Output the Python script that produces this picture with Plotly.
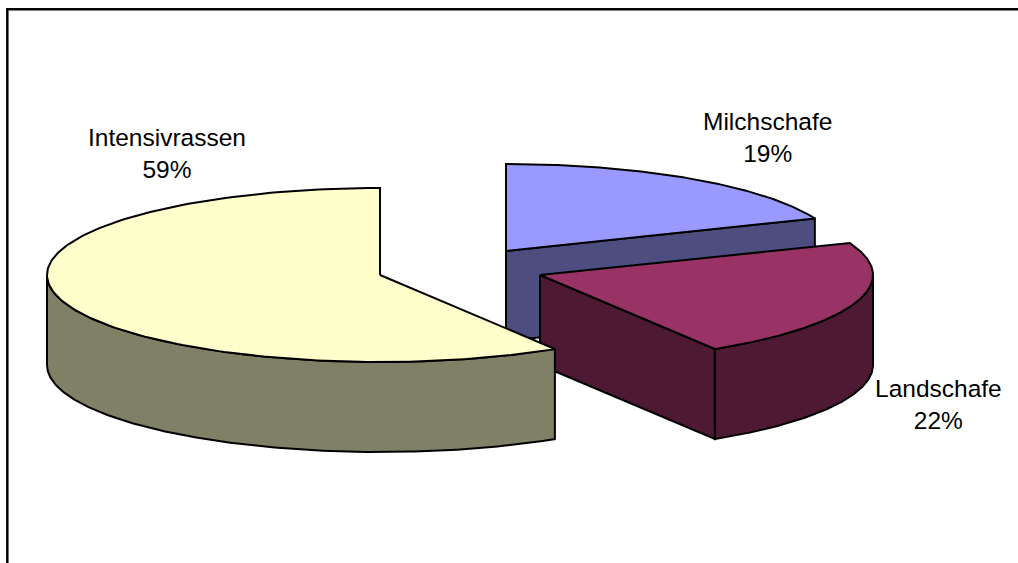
import numpy as np
import plotly.graph_objects as go

# Data
categories = ["Milchschafe", "Landschafe", "Intensivrassen"]
shares = [18.9, 22.3, 58.8]
top_colors = ["#9999FF", "#993366", "#FFFFCC"]
side_colors = ["#4D4D80", "#4D1933", "#808066"]

# Projection of the tilted pie (pixels)
centers = [(506, 251), (540, 275), (380, 275)]
RX, RY, DEPTH = 333, 87, 90
label_pos = [(767, 137), (938, 404), (167, 153)]

fig = go.Figure()


def rim(a0, a1):
    t = np.radians(np.linspace(a0, a1, 200))
    return RX * np.sin(t), -RY * np.cos(t)


def poly(x, y, color):
    fig.add_trace(go.Scatter(
        x=x, y=y, mode="lines", fill="toself", fillcolor=color,
        line=dict(color="black", width=2), hoverinfo="skip", showlegend=False))


edges = np.cumsum([0] + shares) * 3.6
for i, name in enumerate(categories):
    a0, a1 = edges[i], edges[i + 1]
    cx, cy = centers[i]
    rx, ry = rim(a0, a1)
    # cut wall at the end angle, facing the viewer for the first two slices
    if a1 < 180:
        ex, ey = rx[-1], ry[-1]
        poly([cx, cx + ex, cx + ex, cx, cx],
             [cy, cy + ey, cy + ey + DEPTH, cy + DEPTH, cy], side_colors[i])
    # outer wall: the part of the rim on the near side (90..270 degrees)
    lo, hi = max(a0, 90), min(a1, 270)
    if lo < hi:
        wx, wy = rim(lo, hi)
        poly(np.r_[cx + wx, (cx + wx)[::-1], cx + wx[0]],
             np.r_[cy + wy, (cy + wy + DEPTH)[::-1], cy + wy[0]], side_colors[i])
    # top face
    poly(np.r_[cx, cx + rx, cx], np.r_[cy, cy + ry, cy], top_colors[i])

for i, name in enumerate(categories):
    fig.add_annotation(x=label_pos[i][0], y=label_pos[i][1],
                       text=f"{name}<br>{round(shares[i])}%", showarrow=False,
                       font=dict(family="Liberation Sans, Arial, sans-serif",
                                 size=24.5, color="black"), align="center")

fig.update_layout(
    width=1018, height=563, margin=dict(l=0, r=0, t=0, b=0),
    paper_bgcolor="white", plot_bgcolor="white", showlegend=False,
    xaxis=dict(range=[0, 1018], visible=False, fixedrange=True),
    yaxis=dict(range=[563, 0], visible=False, fixedrange=True),
    # chart frame: only its top and left edges fall inside the picture
    shapes=[dict(type="rect", xref="x", yref="y", x0=7.3, y0=9.3, x1=1100, y1=600,
                 line=dict(color="black", width=2.5), layer="below")],
)
fig.write_html("out.html", config={"displayModeBar": False},
               post_script="document.body.style.margin='0';document.body.style.overflow='hidden';")
